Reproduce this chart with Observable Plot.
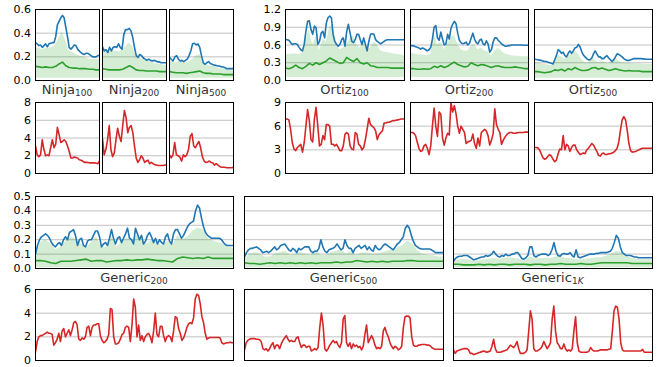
<!DOCTYPE html>
<html><head><meta charset="utf-8">
<script src="https://cdn.jsdelivr.net/npm/d3@7"></script>
<script src="https://cdn.jsdelivr.net/npm/@observablehq/plot@0.6"></script>
<style>
body{margin:0;background:#fff;}
#root{position:relative;width:657px;height:367px;overflow:hidden;background:#fff;font-family:"DejaVu Sans",sans-serif;}
.panel{position:absolute;}
#titles{position:absolute;left:0;top:0;pointer-events:none;}
</style></head><body><div id="root"></div>
<script>
// ---------- data ----------
const titleMain = ["Ninja","Ninja","Ninja","Ortiz","Ortiz","Ortiz","Generic","Generic","Generic"];
const titleSub = ["100","200","500","100","200","500","200","500","1"];
const titleSubItalic = ["","","","","","","","","K"];
const ninjaTopTicks = [0.0,0.2,0.4,0.6];
const ninjaRedTicks = [0,2,4,6,8];
const ortizTopTicks = [0.0,0.3,0.6,0.9,1.2];
const ortizRedTicks = [0,3,6,9];
const genericTopTicks = [0.0,0.1,0.2,0.3,0.4,0.5];
const genericRedTicks = [0,2,4,6];
const bandFloor = [0.02,0.02,0.02,0.05,0.05,0.04,0.005,0.005,0.005];

const ninja100Blue = [0.32,0.31,0.295,0.30,0.28,0.295,0.31,0.285,0.31,0.315,0.32,0.32,0.37,0.47,0.50,0.53,0.55,0.53,0.45,0.37,0.28,0.265,0.28,0.30,0.295,0.265,0.25,0.235,0.225,0.22,0.23,0.23,0.22,0.21,0.20,0.20,0.20,0.21,0.215];
const ninja100Upper = [0.28,0.27,0.26,0.27,0.27,0.28,0.30,0.36,0.41,0.33,0.25,0.24,0.22,0.21,0.20,0.19,0.18,0.18,0.18,0.18];
const ninja100Green = [0.12,0.115,0.11,0.115,0.11,0.11,0.12,0.14,0.155,0.125,0.11,0.105,0.105,0.10,0.10,0.10,0.095,0.095,0.09,0.09];
const ninja100Red = [3.1,2.1,1.9,2.1,3.8,2.7,2.0,2.1,2.0,2.9,3.8,2.9,3.3,5.2,4.4,3.5,3.6,3.8,3.6,3.1,2.5,1.75,1.75,1.85,1.8,1.75,1.55,1.5,1.4,1.25,1.25,1.25,1.2,1.2,1.2,1.2,1.15,1.1,1.4];

const ninja200Blue = [0.285,0.25,0.26,0.237,0.28,0.25,0.28,0.285,0.28,0.31,0.28,0.265,0.39,0.43,0.43,0.44,0.42,0.365,0.28,0.21,0.195,0.22,0.21,0.19,0.18,0.17,0.18,0.17,0.165,0.17,0.165,0.157,0.157,0.15,0.15,0.15,0.15];
const ninja200Upper = [0.25,0.24,0.24,0.25,0.25,0.24,0.26,0.29,0.32,0.28,0.21,0.19,0.18,0.17,0.16,0.15,0.14,0.14,0.13,0.13];
const ninja200Green = [0.10,0.095,0.09,0.09,0.09,0.09,0.095,0.11,0.125,0.11,0.09,0.085,0.085,0.08,0.08,0.08,0.08,0.075,0.075,0.075];
const ninja200Red = [3.9,2.1,2.7,3.8,5.4,2.7,1.9,2.3,3.8,5.1,4.2,3.6,5.4,7.1,6.3,4.6,5.2,5.4,4.6,3.1,1.75,1.25,1.55,2.0,1.75,1.25,1.4,1.5,1.1,1.25,1.1,1.0,0.95,0.9,0.9,0.9,0.9,0.95,0.95];

const ninja500Blue = [0.195,0.18,0.165,0.2,0.21,0.18,0.165,0.17,0.16,0.17,0.18,0.21,0.25,0.31,0.315,0.30,0.31,0.28,0.21,0.15,0.137,0.15,0.16,0.143,0.137,0.13,0.128,0.123,0.123,0.117,0.114,0.11,0.10,0.10,0.10,0.10,0.103];
const ninja500Upper = [0.17,0.16,0.15,0.16,0.16,0.15,0.16,0.18,0.21,0.22,0.16,0.13,0.12,0.12,0.11,0.10,0.10,0.09,0.09,0.09];
const ninja500Green = [0.075,0.07,0.065,0.065,0.065,0.06,0.065,0.07,0.075,0.08,0.065,0.06,0.06,0.055,0.055,0.055,0.05,0.05,0.05,0.05];
const ninja500Red = [2.1,1.75,2.1,3.5,2.1,2.0,1.85,1.4,2.1,1.9,2.1,2.7,4.2,4.5,3.1,2.9,3.3,3.6,2.9,1.9,1.4,1.25,1.3,1.4,1.25,1.2,0.95,1.1,0.95,0.8,0.7,0.7,0.7,0.65,0.65,0.65,0.65,0.7];

const ortiz100Blue = [0.69,0.69,0.68,0.64,0.61,0.62,0.62,0.61,0.56,0.52,0.50,0.61,0.83,1.0,1.01,0.86,0.78,0.92,0.89,0.61,0.66,0.80,0.83,0.72,0.97,1.06,1.09,1.06,0.78,0.66,0.61,0.58,0.61,0.69,0.72,0.58,0.83,0.95,0.80,0.66,0.64,0.69,0.78,0.78,0.69,0.61,0.72,0.61,0.50,0.66,0.78,0.79,0.78,0.69,0.66,0.64,0.62,0.64,0.66,0.68,0.69,0.69,0.69,0.69,0.69,0.69,0.69,0.69,0.69,0.69,0.69];
const ortiz100Upper = [0.44,0.44,0.45,0.45,0.44,0.46,0.70,0.85,0.60,0.75,0.50,0.70,0.65,0.90,0.95,0.60,0.52,0.55,0.60,0.70,0.75,0.60,0.55,0.65,0.50,0.55,0.65,0.60,0.50,0.48,0.47,0.46,0.45,0.44,0.43,0.42];
const ortiz100Green = [0.21,0.20,0.22,0.26,0.22,0.20,0.24,0.29,0.26,0.30,0.27,0.30,0.33,0.38,0.35,0.32,0.29,0.30,0.39,0.35,0.32,0.37,0.30,0.28,0.30,0.25,0.24,0.22,0.22,0.22,0.22,0.21,0.21,0.21,0.21,0.21];
const ortiz100Red = [6.9,6.9,6.8,5.6,3.9,3.1,2.9,3.3,3.5,3.7,2.7,3.9,6.0,8.1,6.7,4.3,4.0,6.9,8.4,6.0,3.5,3.7,4.8,4.3,6.2,6.2,6.0,3.7,3.7,3.5,3.7,3.3,2.9,2.9,3.5,5.0,5.2,5.0,3.5,3.1,3.0,5.2,5.0,3.7,3.5,3.0,3.3,4.3,5.6,7.0,6.2,6.0,5.8,5.4,4.3,4.9,5.2,5.4,6.4,6.4,6.5,6.5,6.6,6.7,6.7,6.75,6.8,6.85,6.9,6.9,6.9];

const ortiz200Blue = [0.59,0.59,0.585,0.57,0.56,0.55,0.53,0.55,0.54,0.52,0.50,0.52,0.56,0.70,0.90,0.93,0.72,0.68,0.82,0.70,0.60,0.62,0.78,0.70,0.88,0.95,1.0,0.96,0.80,0.68,0.64,0.62,0.63,0.65,0.60,0.63,0.72,0.80,0.70,0.64,0.62,0.68,0.70,0.62,0.60,0.67,0.62,0.48,0.52,0.65,0.72,0.72,0.68,0.65,0.62,0.60,0.58,0.58,0.59,0.59,0.60,0.60,0.60,0.60,0.60,0.60,0.60,0.595,0.595,0.595,0.595];
const ortiz200Upper = [0.46,0.45,0.44,0.43,0.43,0.42,0.44,0.78,0.60,0.65,0.52,0.62,0.72,0.76,0.62,0.52,0.50,0.50,0.58,0.60,0.52,0.55,0.50,0.48,0.42,0.50,0.55,0.50,0.45,0.43,0.42,0.41,0.41,0.40,0.40,0.40];
const ortiz200Green = [0.20,0.20,0.19,0.19,0.20,0.19,0.20,0.24,0.22,0.25,0.22,0.24,0.28,0.31,0.27,0.25,0.23,0.24,0.30,0.27,0.25,0.27,0.26,0.24,0.22,0.24,0.25,0.23,0.22,0.22,0.22,0.23,0.22,0.21,0.20,0.20];
const ortiz200Red = [5.2,5.2,5.1,4.8,4.0,3.2,2.8,2.9,3.5,3.7,3.2,2.4,3.5,6.0,8.3,6.0,4.7,7.8,7.5,4.5,3.6,4.5,5.1,4.9,9.0,7.8,8.6,7.6,6.0,5.1,6.0,5.6,5.2,3.8,4.0,4.1,4.2,5.0,3.8,3.2,4.5,3.5,5.2,5.4,5.6,5.4,4.8,3.6,4.2,5.0,8.2,6.2,5.6,5.2,3.7,4.2,4.6,4.9,5.1,5.2,5.2,5.1,5.1,5.15,5.2,5.2,5.2,5.2,5.25,5.25,5.25];

const ortiz500Blue = [0.36,0.355,0.35,0.345,0.34,0.33,0.32,0.32,0.31,0.30,0.29,0.28,0.35,0.42,0.52,0.50,0.46,0.48,0.42,0.40,0.46,0.50,0.46,0.50,0.55,0.56,0.61,0.57,0.49,0.43,0.40,0.37,0.35,0.35,0.38,0.45,0.50,0.45,0.40,0.40,0.37,0.37,0.40,0.42,0.38,0.35,0.32,0.35,0.40,0.45,0.44,0.42,0.40,0.37,0.35,0.34,0.34,0.35,0.36,0.37,0.37,0.37,0.37,0.37,0.365,0.365,0.36,0.36,0.36,0.36,0.36];
const ortiz500Upper = [0.30,0.29,0.28,0.27,0.26,0.25,0.30,0.42,0.40,0.36,0.42,0.44,0.50,0.45,0.35,0.30,0.30,0.40,0.34,0.30,0.33,0.30,0.28,0.34,0.38,0.33,0.30,0.29,0.29,0.28,0.28,0.28,0.27,0.27,0.27,0.27];
const ortiz500Green = [0.15,0.15,0.14,0.13,0.14,0.15,0.18,0.17,0.19,0.16,0.20,0.18,0.22,0.19,0.17,0.17,0.18,0.21,0.22,0.19,0.21,0.19,0.17,0.18,0.20,0.18,0.17,0.16,0.17,0.16,0.16,0.16,0.15,0.15,0.15,0.15];
const ortiz500Red = [3.3,3.3,3.25,3.0,2.5,2.0,1.8,1.9,2.2,2.4,2.2,1.8,1.5,1.7,2.5,3.1,3.0,4.8,3.0,3.7,3.5,2.8,3.3,3.6,3.6,3.0,2.7,2.4,2.5,2.6,2.5,3.0,3.2,3.5,3.8,3.6,3.2,2.8,2.3,2.2,2.5,2.6,2.4,2.4,2.5,2.5,2.6,2.7,2.9,3.2,4.0,5.5,6.8,7.2,6.8,5.5,3.8,2.9,2.7,2.75,2.8,2.9,3.0,3.1,3.2,3.2,3.2,3.2,3.2,3.2,3.2];

const generic200Blue = [0.10,0.16,0.20,0.22,0.23,0.24,0.23,0.21,0.18,0.16,0.15,0.17,0.18,0.16,0.20,0.22,0.20,0.25,0.26,0.27,0.23,0.16,0.20,0.21,0.16,0.15,0.19,0.20,0.20,0.23,0.26,0.26,0.22,0.15,0.17,0.18,0.16,0.21,0.27,0.21,0.17,0.21,0.22,0.18,0.21,0.24,0.28,0.21,0.20,0.17,0.28,0.24,0.20,0.23,0.17,0.19,0.23,0.25,0.22,0.18,0.21,0.17,0.20,0.18,0.17,0.22,0.24,0.19,0.17,0.24,0.27,0.27,0.24,0.21,0.23,0.26,0.29,0.31,0.32,0.33,0.40,0.44,0.42,0.35,0.29,0.25,0.23,0.22,0.21,0.21,0.21,0.21,0.21,0.20,0.18,0.165,0.16,0.16,0.16,0.16];
const generic200Upper = [0.08,0.18,0.20,0.17,0.13,0.15,0.19,0.22,0.20,0.17,0.14,0.18,0.22,0.15,0.15,0.22,0.15,0.18,0.21,0.19,0.23,0.19,0.17,0.20,0.17,0.16,0.19,0.16,0.23,0.20,0.22,0.26,0.28,0.27,0.21,0.19,0.18,0.17,0.15,0.14];
const generic200Green = [0.055,0.055,0.05,0.04,0.035,0.05,0.05,0.05,0.055,0.06,0.065,0.05,0.055,0.055,0.045,0.05,0.055,0.055,0.06,0.055,0.06,0.06,0.065,0.06,0.055,0.055,0.05,0.045,0.07,0.08,0.075,0.07,0.075,0.07,0.08,0.07,0.07,0.07,0.07,0.07];
const generic200Red = [0.7,1.6,2.0,2.1,2.1,2.2,2.3,2.4,2.3,2.3,2.2,1.3,1.5,1.8,2.3,1.6,2.5,2.7,2.0,2.3,2.6,2.1,2.6,3.2,3.3,3.0,1.8,1.7,1.9,1.8,2.0,2.8,2.9,2.1,2.8,3.0,3.0,3.1,3.1,2.1,1.7,1.5,1.6,1.8,2.2,4.4,4.3,2.0,1.4,1.4,1.5,1.8,2.2,2.3,2.8,2.9,2.8,1.6,3.0,5.2,4.5,2.0,3.0,1.7,2.1,1.6,2.0,2.2,2.3,2.0,1.5,2.5,4.0,2.2,2.0,2.9,2.9,2.1,1.6,2.0,2.1,2.0,1.6,2.5,3.7,3.6,2.7,2.3,1.7,1.9,2.3,2.8,3.1,3.2,3.1,3.6,5.2,5.6,5.5,4.8,3.7,3.2,2.3,1.8,1.9,1.95,1.95,1.95,1.95,1.95,1.95,1.9,1.5,1.4,1.45,1.5,1.5,1.55,1.5,1.5];

const generic500Blue = [0.08,0.11,0.13,0.14,0.14,0.145,0.15,0.14,0.13,0.11,0.115,0.12,0.11,0.12,0.135,0.15,0.13,0.14,0.16,0.165,0.17,0.15,0.13,0.12,0.14,0.13,0.11,0.14,0.13,0.14,0.15,0.15,0.15,0.12,0.11,0.12,0.12,0.14,0.20,0.15,0.12,0.11,0.13,0.135,0.14,0.15,0.17,0.15,0.13,0.14,0.20,0.16,0.14,0.14,0.11,0.14,0.15,0.16,0.14,0.15,0.16,0.13,0.15,0.13,0.12,0.16,0.14,0.13,0.14,0.16,0.17,0.16,0.15,0.14,0.13,0.15,0.17,0.18,0.20,0.22,0.28,0.30,0.28,0.23,0.19,0.16,0.15,0.14,0.135,0.135,0.135,0.135,0.135,0.13,0.12,0.11,0.11,0.11,0.11,0.11];
const generic500Upper = [0.06,0.10,0.11,0.10,0.08,0.08,0.10,0.11,0.12,0.09,0.10,0.11,0.10,0.09,0.13,0.09,0.09,0.11,0.12,0.13,0.10,0.12,0.09,0.11,0.11,0.10,0.10,0.11,0.12,0.13,0.14,0.16,0.19,0.17,0.12,0.10,0.09,0.09,0.08,0.08];
const generic500Green = [0.04,0.035,0.035,0.03,0.035,0.04,0.035,0.04,0.035,0.04,0.035,0.04,0.035,0.04,0.035,0.04,0.04,0.04,0.045,0.04,0.045,0.045,0.055,0.05,0.045,0.05,0.045,0.05,0.045,0.05,0.05,0.05,0.055,0.055,0.05,0.05,0.05,0.05,0.05,0.05];
const generic500Red = [0.9,1.5,1.7,1.8,1.85,1.85,1.85,1.8,1.8,1.75,1.6,1.0,0.9,1.0,0.8,1.0,1.3,1.5,1.0,1.3,1.3,1.0,1.4,1.7,1.9,2.1,1.8,1.6,1.7,1.6,1.6,1.9,2.0,1.5,1.1,1.3,1.3,1.1,1.2,1.2,0.8,0.9,1.0,0.9,1.1,2.8,4.0,3.0,1.0,0.8,1.0,1.3,1.5,1.7,1.5,1.6,1.3,1.1,1.5,3.5,3.8,1.5,1.2,1.5,1.0,1.4,1.2,1.3,1.1,1.2,0.9,1.2,2.2,3.0,1.5,1.8,2.1,1.8,1.3,1.0,1.1,1.0,1.2,2.5,2.8,2.3,2.0,1.5,1.2,1.0,1.2,1.1,0.9,1.0,1.2,2.8,3.7,3.75,3.75,3.6,2.0,1.3,1.2,1.2,1.3,1.3,1.35,1.35,1.35,1.3,1.3,1.25,1.1,1.0,0.95,0.95,0.95,0.95,0.95,0.95];

const generic1KBlue = [0.05,0.07,0.08,0.085,0.085,0.09,0.09,0.09,0.08,0.07,0.06,0.065,0.07,0.075,0.08,0.08,0.09,0.085,0.09,0.10,0.12,0.10,0.085,0.08,0.09,0.085,0.10,0.09,0.09,0.10,0.10,0.11,0.11,0.09,0.07,0.065,0.075,0.09,0.15,0.15,0.09,0.08,0.09,0.095,0.10,0.10,0.10,0.09,0.10,0.13,0.18,0.12,0.09,0.085,0.10,0.105,0.10,0.10,0.11,0.09,0.08,0.13,0.08,0.075,0.08,0.085,0.09,0.095,0.10,0.10,0.10,0.105,0.105,0.11,0.11,0.11,0.11,0.115,0.12,0.14,0.18,0.23,0.21,0.15,0.11,0.10,0.09,0.09,0.09,0.085,0.08,0.08,0.075,0.075,0.075,0.075,0.075,0.075,0.075,0.075];
const generic1KUpper = [0.04,0.06,0.065,0.06,0.05,0.055,0.06,0.065,0.07,0.065,0.07,0.075,0.07,0.065,0.055,0.08,0.065,0.07,0.07,0.07,0.08,0.085,0.07,0.07,0.06,0.06,0.065,0.07,0.075,0.075,0.085,0.10,0.12,0.11,0.08,0.07,0.065,0.06,0.06,0.06];
const generic1KGreen = [0.03,0.03,0.025,0.025,0.025,0.03,0.025,0.03,0.025,0.03,0.03,0.025,0.03,0.03,0.03,0.025,0.03,0.03,0.025,0.03,0.03,0.035,0.03,0.03,0.03,0.035,0.03,0.03,0.035,0.04,0.04,0.04,0.04,0.04,0.04,0.035,0.035,0.035,0.035,0.035];
const generic1KRed = [0.9,0.6,0.8,0.85,0.9,0.95,1.0,1.0,1.0,0.9,0.6,0.6,0.5,0.55,0.6,0.65,0.7,0.75,0.8,0.75,0.7,0.75,0.8,1.2,1.8,1.0,0.7,0.7,0.7,0.75,0.8,0.85,0.9,1.1,1.3,1.2,1.1,1.3,1.6,1.0,0.6,0.6,0.6,0.7,0.9,2.5,4.2,3.5,1.0,0.8,0.8,0.9,1.0,1.2,1.6,1.3,1.0,1.2,1.5,3.5,4.6,2.5,1.5,1.3,1.0,1.0,1.4,1.0,0.8,0.9,0.8,1.0,2.5,3.7,1.5,0.8,0.7,0.7,0.7,0.7,0.7,0.8,1.1,0.9,0.8,0.8,0.8,0.85,0.9,0.9,0.9,0.9,0.9,0.95,1.0,2.5,4.2,4.6,4.5,3.5,1.5,0.9,0.8,0.8,0.8,0.8,0.8,0.8,0.8,0.8,0.8,0.8,0.8,0.95,0.7,0.7,0.7,0.7,0.7,0.7];

// ---------- layout ----------
const BLUE = "#1f77b4", GREEN = "#2ca02c", RED = "#d62728";
const root = document.getElementById("root");
const pts = arr => arr.map((v, i) => ({x: i / (arr.length - 1), y: v}));

function panel({x0, x1, y0, y1, domain, ticks, fmt, axisMargin, blue, upper, green, floor, red}) {
  const ml = axisMargin || 1, mr = 1, mt = 1, mb = 1;
  const marks = [Plot.ruleY(ticks, {stroke: "#b0b0b0", strokeWidth: 0.8})];
  if (upper) marks.push(Plot.areaY(pts(upper), {x: "x", y1: floor, y2: "y", fill: GREEN, fillOpacity: 0.2, curve: "linear"}));
  if (blue) marks.push(Plot.lineY(pts(blue), {x: "x", y: "y", stroke: BLUE, strokeWidth: 1.6, clip: true}));
  if (green) marks.push(Plot.lineY(pts(green), {x: "x", y: "y", stroke: GREEN, strokeWidth: 1.6, clip: true}));
  if (red) marks.push(Plot.lineY(pts(red), {x: "x", y: "y", stroke: RED, strokeWidth: 1.6, clip: true}));
  marks.push(Plot.frame({stroke: "#000", strokeWidth: 1}));
  if (axisMargin) marks.push(Plot.axisY(ticks, {tickSize: 0, tickPadding: 4.5, tickFormat: fmt, fontSize: 11, label: null, fill: "#000"}));
  const svg = Plot.plot({
    width: (x1 - x0) + ml + mr, height: (y1 - y0) + mt + mb,
    marginLeft: ml, marginRight: mr, marginTop: mt, marginBottom: mb,
    x: {domain: [0, 1], axis: null},
    y: {domain, axis: null},
    style: {fontFamily: "DejaVu Sans", fontSize: "11px", background: "transparent", overflow: "visible", color: "#000"},
    marks
  });
  svg.classList.add("panel");
  svg.style.left = (x0 - ml) + "px";
  svg.style.top = (y0 - mt) + "px";
  root.appendChild(svg);
}

const f1 = d3.format(".1f"), f0 = d3.format("d");
const ninjaX = [[35, 99], [102, 166], [169, 233]];
const ortizX = [[285, 404], [410, 528], [534, 652]];
const genericX = [[35, 233], [244, 443], [453, 652]];
const rowA = [9, 80], rowB = [102, 173], rowC = [196, 268], rowD = [289, 360];

const ninjaTop = [[ninja100Blue, ninja100Upper, ninja100Green], [ninja200Blue, ninja200Upper, ninja200Green], [ninja500Blue, ninja500Upper, ninja500Green]];
const ninjaRed = [ninja100Red, ninja200Red, ninja500Red];
const ortizTop = [[ortiz100Blue, ortiz100Upper, ortiz100Green], [ortiz200Blue, ortiz200Upper, ortiz200Green], [ortiz500Blue, ortiz500Upper, ortiz500Green]];
const ortizRed = [ortiz100Red, ortiz200Red, ortiz500Red];
const genericTop = [[generic200Blue, generic200Upper, generic200Green], [generic500Blue, generic500Upper, generic500Green], [generic1KBlue, generic1KUpper, generic1KGreen]];
const genericRed = [generic200Red, generic500Red, generic1KRed];

const titlePos = [];
for (let k = 0; k < 3; k++) {
  const [nx0, nx1] = ninjaX[k];
  panel({x0: nx0, x1: nx1, y0: rowA[0], y1: rowA[1], domain: [0, 0.6], ticks: ninjaTopTicks, fmt: f1, axisMargin: k === 0 ? 35 : 0,
    blue: ninjaTop[k][0], upper: ninjaTop[k][1], green: ninjaTop[k][2], floor: bandFloor[k]});
  panel({x0: nx0, x1: nx1, y0: rowB[0], y1: rowB[1], domain: [0, 8], ticks: ninjaRedTicks, fmt: f0, axisMargin: k === 0 ? 35 : 0, red: ninjaRed[k]});
  titlePos[k] = [(nx0 + nx1) / 2, 94];

  const [ox0, ox1] = ortizX[k];
  panel({x0: ox0, x1: ox1, y0: rowA[0], y1: rowA[1], domain: [0, 1.2], ticks: ortizTopTicks, fmt: f1, axisMargin: k === 0 ? 40 : 0,
    blue: ortizTop[k][0], upper: ortizTop[k][1], green: ortizTop[k][2], floor: bandFloor[3 + k]});
  panel({x0: ox0, x1: ox1, y0: rowB[0], y1: rowB[1], domain: [0, 9], ticks: ortizRedTicks, fmt: f0, axisMargin: k === 0 ? 40 : 0, red: ortizRed[k]});
  titlePos[3 + k] = [(ox0 + ox1) / 2, 94];

  const [gx0, gx1] = genericX[k];
  panel({x0: gx0, x1: gx1, y0: rowC[0], y1: rowC[1], domain: [0, 0.5], ticks: genericTopTicks, fmt: f1, axisMargin: k === 0 ? 35 : 0,
    blue: genericTop[k][0], upper: genericTop[k][1], green: genericTop[k][2], floor: bandFloor[6 + k]});
  panel({x0: gx0, x1: gx1, y0: rowD[0], y1: rowD[1], domain: [0, 6], ticks: genericRedTicks, fmt: f0, axisMargin: k === 0 ? 35 : 0, red: genericRed[k]});
  titlePos[6 + k] = [(gx0 + gx1) / 2, 282];
}

// titles as SVG text with subscripts
const tsvg = d3.create("svg").attr("id", "titles").attr("width", 657).attr("height", 367)
  .attr("font-family", "DejaVu Sans").attr("fill", "#333");
titleMain.forEach((m, i) => {
  const t = tsvg.append("text").attr("x", titlePos[i][0]).attr("y", titlePos[i][1])
    .attr("text-anchor", "middle").attr("font-size", 13).attr("font-weight", 400);
  t.append("tspan").text(m);
  t.append("tspan").attr("font-size", 9).attr("dy", 2).text(titleSub[i]);
  if (titleSubItalic[i]) t.append("tspan").attr("font-size", 9).attr("font-style", "italic").text(titleSubItalic[i]);
});
root.appendChild(tsvg.node());
</script></body></html>
